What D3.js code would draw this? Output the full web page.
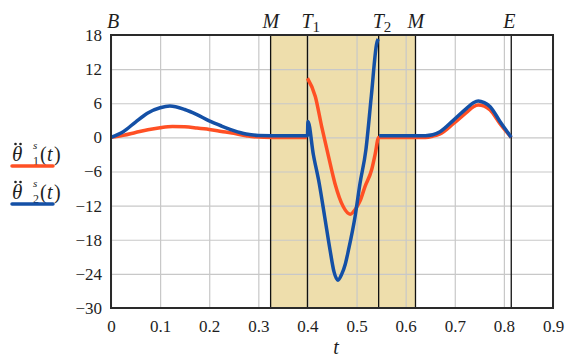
<!DOCTYPE html>
<html>
<head>
<meta charset="utf-8">
<script src="https://cdn.jsdelivr.net/npm/d3@7"></script>
<style>
  body { margin: 0; background: #fff; }
  svg { display: block; }
  .grid line { stroke: #c8c8c8; stroke-width: 1.2; }
  .grid .domain { display: none; }
</style>
</head>
<body>
<div id="chart"></div>
<script>
const SERIF = "'Liberation Serif', 'Times New Roman', Times, serif";

// axis ticks
const xTicks = [0, 0.1, 0.2, 0.3, 0.4, 0.5, 0.6, 0.7, 0.8, 0.9];
const yTicks = [-30, -24, -18, -12, -6, 0, 6, 12, 18];

// phase markers along t
const markerNames = ["B", "M", "T", "T", "M", "E"];
const markerSubs = ["", "", "1", "2", "", ""];
const markerT = [0, 0.325, 0.4, 0.545, 0.62, 0.815];
const shadeRange = [0.325, 0.62];

// theta1 second derivative (red), null = gap
const t1 = [0, 0.025, 0.05, 0.075, 0.1, 0.125, 0.15, 0.175, 0.2, 0.225, 0.25, 0.275, 0.29, 0.33, 0.399,
  0.3995,
  0.4, 0.416, 0.429, 0.443, 0.456, 0.473, 0.487, 0.5, 0.507, 0.517, 0.531, 0.538, 0.545,
  0.6, 0.64, 0.655, 0.67, 0.697, 0.724, 0.738, 0.748, 0.76, 0.772, 0.792, 0.805, 0.815];
const theta1 = [0, 0.35, 0.85, 1.35, 1.7, 1.9, 1.85, 1.65, 1.4, 1.05, 0.7, 0.3, 0.1, 0, 0,
  null,
  10.4, 7.2, 1.9, -3.4, -8.1, -12.2, -13.5, -12.3, -11.2, -8.7, -5.6, -2.9, 0,
  0, 0, 0.2, 0.6, 2.4, 4.4, 5.4, 5.7, 5.5, 4.8, 2.4, 1.0, 0];

// theta2 second derivative (blue), null = gap
const t2 = [0, 0.025, 0.05, 0.075, 0.1, 0.12, 0.15, 0.175, 0.2, 0.225, 0.25, 0.275, 0.3, 0.35, 0.4,
  0.401, 0.412, 0.424, 0.435, 0.446, 0.454, 0.462, 0.47, 0.477, 0.4836, 0.497, 0.507, 0.519, 0.53, 0.541, 0.544,
  0.5445,
  0.546, 0.6, 0.64, 0.655, 0.67, 0.697, 0.724, 0.738, 0.748, 0.76, 0.772, 0.792, 0.805, 0.815];
const theta2 = [0, 1.0, 2.7, 4.3, 5.2, 5.5, 4.9, 4.0, 2.9, 2.0, 1.2, 0.6, 0.35, 0.3, 0.3,
  2.8, -3.0, -8.1, -13.9, -19.8, -23.6, -25.1, -24.0, -22.3, -19.8, -13.9, -8.1, -2.2, 7.2, 16.5, 17.3,
  null,
  0.3, 0.3, 0.3, 0.45, 1.0, 3.0, 5.1, 6.1, 6.4, 6.1, 5.4, 2.8, 1.2, 0];

const W = 569, H = 357;
const margin = { top: 35, right: 16, bottom: 49, left: 111 };
const width = W - margin.left - margin.right,
      height = H - margin.top - margin.bottom;

const svg = d3.select("#chart").append("svg")
  .attr("width", W)
  .attr("height", H);
const g = svg.append("g")
  .attr("transform", "translate(" + margin.left + "," + margin.top + ")");

const x = d3.scaleLinear().domain([0, 0.9]).range([0, width]);
const y = d3.scaleLinear().domain([-30, 18]).range([height, 0]);

// shaded interval
g.append("rect")
  .attr("x", x(shadeRange[0]))
  .attr("y", 0)
  .attr("width", x(shadeRange[1]) - x(shadeRange[0]))
  .attr("height", height)
  .attr("fill", "#eedeac");

// grid + tick labels
const xAx = g.append("g")
  .attr("class", "grid")
  .attr("transform", "translate(0," + height + ")")
  .call(d3.axisBottom(x).tickValues(xTicks).tickSize(-height).tickPadding(9)
    .tickFormat(d => d === 0 ? "0" : d3.format(".1f")(d)));
xAx.selectAll("text").attr("dy", "0.9em");
const yAx = g.append("g")
  .attr("class", "grid")
  .call(d3.axisLeft(y).tickValues(yTicks).tickSize(-width).tickPadding(9)
    .tickFormat(d3.format("d")));
[xAx, yAx].forEach(a => a.selectAll("text")
  .style("font-family", SERIF)
  .style("font-size", "17px")
  .style("fill", "#1e1e1e"));

// phase lines
g.selectAll("line.marker")
  .data(markerT.slice(1))
  .enter()
  .append("line")
  .attr("class", "marker")
  .attr("x1", d => x(d)).attr("x2", d => x(d))
  .attr("y1", 0).attr("y2", height)
  .attr("stroke", "#111")
  .attr("stroke-width", 1.3);

// phase labels
const ml = g.selectAll("text.mlabel")
  .data(markerT)
  .enter()
  .append("text")
  .attr("class", "mlabel")
  .attr("x", (d, i) => x(d) + (markerSubs[i] ? -6 : (i === 0 ? -4 : -8)))
  .attr("y", -7)
  .style("font-family", SERIF)
  .style("font-style", "italic")
  .style("font-size", "20px")
  .style("fill", "#1e1e1e");
ml.append("tspan").text((d, i) => markerNames[i]);
ml.append("tspan")
  .style("font-style", "normal")
  .style("font-size", "15px")
  .attr("dy", 4)
  .text((d, i) => markerSubs[i]);

// curves
const line = d3.line()
  .defined(d => d[1] !== null)
  .x(d => x(d[0]))
  .y(d => y(d[1]))
  .curve(d3.curveMonotoneX);

g.append("path")
  .datum(t1.map((t, i) => [t, theta1[i]]))
  .attr("fill", "none")
  .attr("stroke", "#ff5024")
  .attr("stroke-width", 3.5)
  .attr("d", line);
g.append("path")
  .datum(t2.map((t, i) => [t, theta2[i]]))
  .attr("fill", "none")
  .attr("stroke", "#1450a6")
  .attr("stroke-width", 3.5)
  .attr("d", line);

// frame
g.append("rect")
  .attr("width", width)
  .attr("height", height)
  .attr("fill", "none")
  .attr("stroke", "#2a2a2a")
  .attr("stroke-width", 2);

// axis title
svg.append("text")
  .attr("x", 336)
  .attr("y", 354)
  .attr("text-anchor", "middle")
  .style("font-family", SERIF)
  .style("font-style", "italic")
  .style("font-size", "20px")
  .style("fill", "#1e1e1e")
  .text("t");

// legend
const legendColors = ["#ff5024", "#1450a6"];
const legendSubs = ["1", "2"];
function lt(sel, px, py, size, italic, txt) {
  return sel.append("text").attr("x", px).attr("y", py)
    .style("font-family", SERIF)
    .style("font-style", italic ? "italic" : "normal")
    .style("font-size", size + "px")
    .style("fill", "#1e1e1e")
    .text(txt);
}
legendColors.forEach((c, i) => {
  const by = 161 + i * 38;
  const lg = svg.append("g");
  lt(lg, 12, by, 21, true, "θ");
  // double dot of the second derivative
  lg.selectAll("circle").data([15.5, 20.5]).enter().append("circle")
    .attr("cx", d => d).attr("cy", by - 17).attr("r", 1.3).attr("fill", "#1e1e1e");
  lt(lg, 33, by - 12, 11, true, "s");
  lt(lg, 33, by + 4, 12, false, legendSubs[i]);
  lt(lg, 40, by, 20, false, "(");
  lt(lg, 47, by, 20, true, "t");
  lt(lg, 54, by, 20, false, ")");
  lg.append("line")
    .attr("x1", 12).attr("x2", 53)
    .attr("y1", by + 5).attr("y2", by + 5)
    .attr("stroke", c).attr("stroke-width", 3.5)
    .attr("stroke-linecap", "round");
});
</script>
</body>
</html>
